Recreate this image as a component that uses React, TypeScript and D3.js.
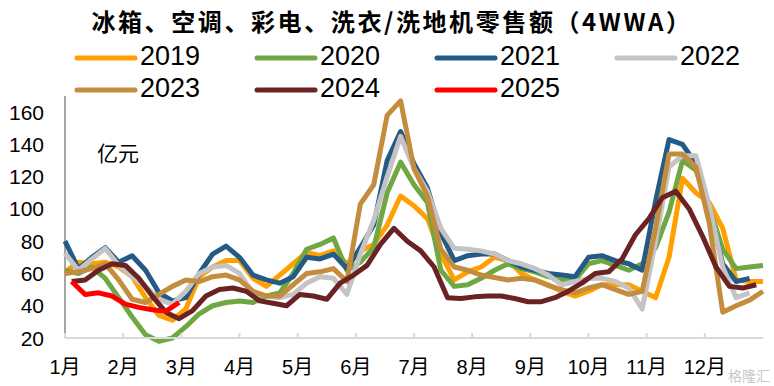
import React from 'react';
import * as d3 from 'd3';

const title = '冰箱、空调、彩电、洗衣/洗地机零售额（4WWA）';
const unitLabel = '亿元';
const monthLabels = ['1月', '2月', '3月', '4月', '5月', '6月', '7月', '8月', '9月', '10月', '11月', '12月'];
const yTicks = [20, 40, 60, 80, 100, 120, 140, 160];

const years = ['2019', '2020', '2021', '2022', '2023', '2024', '2025'];
const colors = ['#FFA000', '#6FA742', '#245A86', '#C4C4C4', '#C48D3E', '#6B2222', '#FF0000'];
// week offset of the first point of each series
const startWeek = [0, 0, 0, 0, 0, 0.5, 0.5];

const s2019 = [61, 67, 66, 67, 64, 58, 45, 34, 31, 38, 58, 64, 68, 68, 57, 52, 59, 66, 73, 71, 74, 66, 74, 78, 90, 108, 102, 94, 72, 56, 61, 64, 70, 68, 60, 56, 53, 49, 46, 49, 53, 53, 53, 49, 45, 70, 119, 110, 104, 88, 56, 55, 55];
const s2020 = [62, 60, 64, 57, 45, 33, 22, 18, 20, 27, 35, 40, 42, 43, 42, 46, 48, 60, 75, 78, 82, 62, 67, 76, 110, 129, 115, 104, 62, 52, 53, 57, 62, 66, 63, 61, 58, 56, 56, 66, 68, 65, 62, 66, 76, 98, 130, 124, 101, 75, 63, 64, 65];
const s2021 = [80, 63, 70, 76, 67, 71, 62, 48, 43, 45, 60, 72, 77, 70, 59, 56, 54, 58, 70, 69, 72, 63, 76, 90, 130, 148, 128, 113, 85, 68, 71, 72, 72, 68, 64, 62, 60, 59, 58, 70, 71, 68, 66, 62, 105, 143, 140, 128, 100, 66, 55, 57];
const s2022 = [72.5, 62, 69, 75.5, 65, 58, 52, 44, 41, 49, 60, 64, 65, 60, 48, 46, 45, 47, 54, 58, 57, 47, 72, 93, 120, 145, 125, 111, 88, 75.6, 75, 74, 72, 68, 66, 63, 59, 53, 55, 57, 57, 55, 51, 38, 80, 126, 133, 133, 102, 64, 45, 48];
const s2023 = [60, 61, 63, 66, 56, 44, 42, 47, 52, 56, 55, 58, 59, 56, 49, 46, 46, 53, 60, 61, 63, 55, 103, 115, 158, 167, 125, 108, 75, 64, 62, 59, 57.5, 56, 57, 56, 52.5, 50, 48, 51, 53, 50, 47, 49, 88, 134, 134, 126, 91, 36, 40, 43.5, 49];
const s2024 = [55, 56, 62, 66, 65, 57, 46, 36, 32, 37, 46, 50, 51, 49, 43, 41.5, 40, 47, 46, 44, 54, 59, 65, 78, 88, 80, 74, 64, 45, 44.5, 45.5, 46, 46, 44.5, 42.5, 42.5, 45, 49, 54, 60, 61, 69, 84, 94, 107, 111, 100, 83, 64, 52, 51, 53];
const s2025 = [55, 47, 48, 46, 41, 39, 37.5, 36.5, 42];

const seriesValues = [s2019, s2020, s2021, s2022, s2023, s2024, s2025];

const W = 774;
const H = 386;
const left = 65;
const right = 763;
const top = 96;
const bottom = 338;

const latin = '"Liberation Sans", Arial, "Noto Sans CJK SC", sans-serif';
const cjk = '"Noto Sans CJK SC", "Liberation Sans", sans-serif';

export default function App() {
  const x = d3.scaleLinear().domain([0, 52]).range([left, right]);
  const y = d3.scaleLinear().domain([20, 170]).range([bottom, top]);

  const line = d3.line<[number, number]>()
    .x(d => x(d[0]))
    .y(d => y(d[1]));

  const monthPos = monthLabels.map((_, i) => x((i * 52) / 12));

  const legendCols = [77, 257, 437, 617];
  const legendRows = [58, 90];

  return (
    <svg width={W} height={H} style={{ position: 'absolute', left: 0, top: 0, background: '#fff' }}>
      <text x={392} y={31} textAnchor="middle" fontFamily={cjk} fontWeight={700} fontSize={24}
        letterSpacing={2.6} fill="#000">{title}</text>

      {years.map((yr, i) => {
        const lx = legendCols[i % 4];
        const ly = legendRows[Math.floor(i / 4)];
        return (
          <g key={yr}>
            <line x1={lx} x2={lx + 58} y1={ly} y2={ly} stroke={colors[i]} strokeWidth={5} strokeLinecap="round" />
            <text x={lx + 63} y={ly + 7} fontFamily={latin} fontSize={27} fill="#000">{yr}</text>
          </g>
        );
      })}

      {/* axes */}
      <line x1={left} x2={left} y1={top} y2={bottom} stroke="#A6A6A6" strokeWidth={2} />
      {yTicks.map(t => (
        <text key={t} x={44} y={y(t) + 7.5} textAnchor="end" fontFamily={latin} fontSize={21} fill="#000">{t}</text>
      ))}
      <text x={97} y={161} fontFamily={cjk} fontSize={21} fill="#000">{unitLabel}</text>

      {seriesValues.map((vals, i) => (
        <path key={years[i]}
          d={line(vals.map((v, k) => [startWeek[i] + k, v] as [number, number])) || ''}
          fill="none" stroke={colors[i]} strokeWidth={5} strokeLinejoin="round" strokeLinecap="butt" />
      ))}

      <line x1={left} x2={right} y1={bottom} y2={bottom} stroke="#D9D9D9" strokeWidth={2} />
      {monthPos.map((p, i) => (
        <line key={'t' + i} x1={p} x2={p} y1={bottom} y2={bottom - 5} stroke="#D9D9D9" strokeWidth={2} />
      ))}
      {monthLabels.map((m, i) => (
        <text key={m} x={monthPos[i]} y={374} textAnchor="middle" fontFamily={latin} fontSize={20} fill="#000">{m}</text>
      ))}

      <text x={770} y={381} textAnchor="end" fontFamily={cjk} fontSize={14} fill="#B0B0B0" opacity={0.7}>格隆汇</text>
    </svg>
  );
}
